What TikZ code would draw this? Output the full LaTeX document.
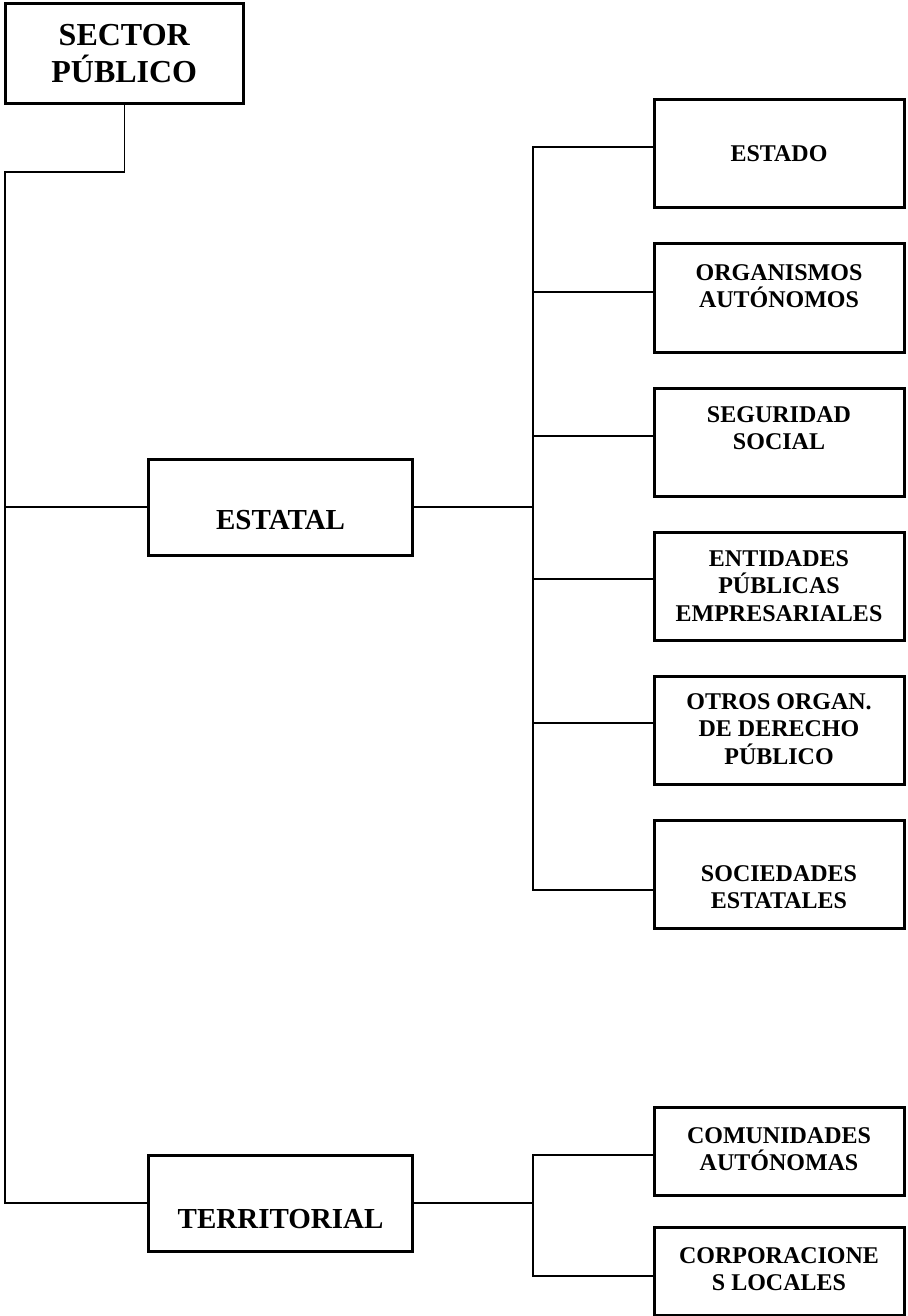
\documentclass[tikz,border=0pt]{standalone}
\usepackage{fontspec}
\setmainfont{Liberation Serif}
\begin{document}
\begin{tikzpicture}[x=0.5pt,y=-0.5pt,
  caja/.style={draw, line width=1.5pt, inner sep=0pt, minimum width=125pt, minimum height=54pt},
  texto/.style={font=\bfseries\fontsize{12}{13.8}\selectfont, align=center, inner sep=0pt},
  linea/.style={line width=0.7pt}]

\useasboundingbox (0,0) rectangle (907,1316);

\node[caja, minimum width=118.75pt, minimum height=50pt] (SP) at (124.25,54) {};
\node[caja, minimum width=132pt, minimum height=48pt] (EST) at (280.6,507) {};
\node[caja, minimum width=132pt, minimum height=48pt] (TER) at (280.6,1203) {};

\node[caja] (ESTADO) at (779,154) {};
\node[caja] (ORG) at (779,298) {};
\node[caja] (SEG) at (779,442) {};
\node[caja] (ENT) at (779,586) {};
\node[caja] (OTR) at (779,730) {};
\node[caja] (SOC) at (779,874) {};
\node[caja, minimum height=44pt] (COM) at (779,1151) {};
\node[caja, minimum height=44pt] (COR) at (779,1271) {};

\node[texto, font=\bfseries\fontsize{16}{18.5}\selectfont] (tSP) at (124.25,53.5) {SECTOR\\PÚBLICO};
\node[texto, font=\bfseries\fontsize{14.5}{16.7}\selectfont] (tEST) at (280.6,520) {ESTATAL};
\node[texto, font=\bfseries\fontsize{14.5}{16.7}\selectfont] (tTER) at (280.6,1219) {TERRITORIAL};

\node[texto] (tESTADO) at (779,154) {ESTADO};
\node[texto] (tORG) at (779,286) {ORGANISMOS\\AUTÓNOMOS};
\node[texto] (tSEG) at (779,428) {SEGURIDAD\\SOCIAL};
\node[texto] (tENT) at (779,586) {ENTIDADES\\PÚBLICAS\\EMPRESARIALES};
\node[texto] (tOTR) at (779,729) {OTROS ORGAN.\\DE DERECHO\\PÚBLICO};
\node[texto] (tSOC) at (779,887) {SOCIEDADES\\ESTATALES};
\node[texto] (tCOM) at (779,1149) {COMUNIDADES\\AUTÓNOMAS};
\node[texto] (tCOR) at (779,1269) {CORPORACIONE\\S LOCALES};

\coordinate (codo) at (5,172);
\coordinate (troncoE) at (533,507);
\coordinate (troncoT) at (533,1203);

\draw[linea] (SP.south) |- (codo) |- (TER.west);
\draw[linea] (EST.west) -| (codo);

\draw[linea] (EST.east) -- (troncoE);
\draw[linea] ([yshift=3.5pt]ESTADO.west) -| (troncoE);
\draw[linea] ([yshift=3pt]ORG.west) -| (troncoE);
\draw[linea] ([yshift=3pt]SEG.west) -| (troncoE);
\draw[linea] ([yshift=3.5pt]ENT.west) -| (troncoE);
\draw[linea] ([yshift=3.5pt]OTR.west) -| (troncoE);
\draw[linea] ([yshift=-8pt]SOC.west) -| (troncoE);

\draw[linea] (TER.east) -- (troncoT);
\draw[linea] ([yshift=-2pt]COM.west) -| (troncoT);
\draw[linea] ([yshift=-2.5pt]COR.west) -| (troncoT);

\end{tikzpicture}
\end{document}
